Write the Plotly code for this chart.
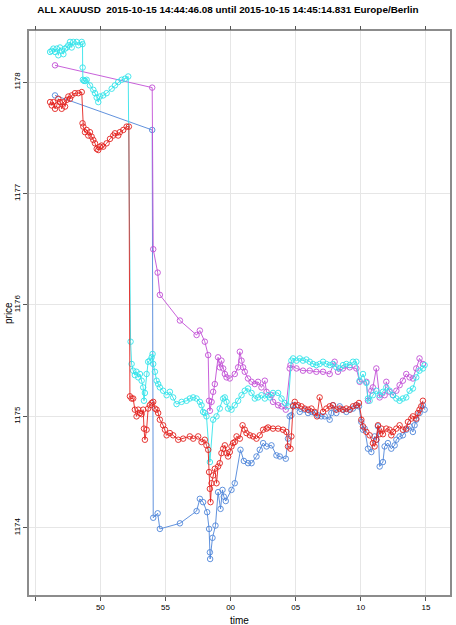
import plotly.graph_objects as go

# seconds after 14:44:00, prices in USD
cyan_t = [46.14, 46.27, 46.39, 46.52, 46.65, 46.77, 46.90, 47.03, 47.16, 47.29, 47.42, 47.54,
          47.67, 47.80, 47.92, 48.18, 48.31, 48.57, 48.63, 48.64, 48.66, 48.75, 48.85, 48.95,
          49.20, 49.46, 49.59, 49.72, 49.84, 49.97, 50.22, 50.48, 50.87, 51.12, 51.37, 51.63,
          51.89, 52.14, 52.32, 52.40, 52.52, 52.65, 52.78, 52.91, 53.04, 53.17, 53.29, 53.35,
          53.42, 53.55, 53.67, 53.80, 53.94, 54.01, 54.06, 54.19, 54.32, 54.44, 54.57, 54.82,
          55.09, 55.34, 55.59, 55.85, 56.24, 56.62, 56.87, 57.13, 57.39, 57.64, 57.77, 57.89,
          58.02, 58.15, 58.41, 58.66, 58.92, 59.17, 59.43, 59.56, 59.69, 59.81, 60.07, 60.32,
          60.58, 60.84, 61.09, 61.34, 61.61, 61.86, 62.11, 62.37, 62.63, 62.88, 63.01, 63.26,
          63.65, 63.91, 64.16, 64.41, 64.67, 64.80, 65.06, 65.31, 65.56, 65.82, 66.08, 66.33,
          66.59, 66.84, 67.10, 67.36, 67.61, 67.86, 68.12, 68.38, 68.63, 68.89, 69.15, 69.40,
          69.66, 69.91, 70.17, 70.43, 70.55, 70.68, 70.93, 71.19, 71.45, 71.70, 71.96, 72.21,
          72.47, 72.73, 72.98, 73.23, 73.49, 73.75, 74.00, 74.26, 74.51, 74.77, 74.90]
cyan_p = [1178.27, 1178.28, 1178.30, 1178.27, 1178.30, 1178.24, 1178.31, 1178.28, 1178.25,
          1178.30, 1178.31, 1178.33, 1178.36, 1178.31, 1178.36, 1178.36, 1178.33, 1178.36,
          1178.34, 1178.13, 1178.02, 1178.01, 1178.01, 1178.02, 1177.97, 1177.93, 1177.90,
          1177.86, 1177.82, 1177.87, 1177.88, 1177.90, 1177.94, 1177.97, 1178.00, 1178.02,
          1178.03, 1178.05, 1175.67, 1175.47, 1175.41, 1175.37, 1175.40, 1175.35, 1175.38,
          1175.32, 1175.26, 1175.14, 1175.21, 1175.38, 1175.49, 1175.50, 1175.53, 1175.56,
          1175.47, 1175.40, 1175.32, 1175.29, 1175.26, 1175.23, 1175.19, 1175.22, 1175.17,
          1175.11, 1175.13, 1175.14, 1175.16, 1175.17, 1175.16, 1175.13, 1175.10, 1175.04,
          1175.03, 1175.00, 1174.59, 1174.97, 1175.00, 1175.07, 1175.16, 1175.17, 1175.13,
          1175.07, 1175.06, 1175.10, 1175.14, 1175.19, 1175.23, 1175.25, 1175.21, 1175.16,
          1175.17, 1175.19, 1175.16, 1175.19, 1175.17, 1175.21, 1175.21, 1175.16, 1175.12,
          1175.09, 1175.50, 1175.52, 1175.50, 1175.52, 1175.50, 1175.51, 1175.49, 1175.47,
          1175.46, 1175.47, 1175.49, 1175.47, 1175.46, 1175.47, 1175.44, 1175.43, 1175.46,
          1175.47, 1175.46, 1175.49, 1175.49, 1175.32, 1175.38, 1175.30, 1175.16, 1175.14,
          1175.19, 1175.23, 1175.19, 1175.22, 1175.26, 1175.23, 1175.19, 1175.16, 1175.14,
          1175.16, 1175.17, 1175.23, 1175.25, 1175.35, 1175.41, 1175.43, 1175.46]

magenta_t = [46.52, 53.98, 54.06, 54.40, 54.57, 56.11, 57.39, 57.64, 58.02, 58.28, 58.35, 58.41,
             58.54, 58.66, 58.79, 59.04, 59.17, 59.30, 59.43, 59.56, 59.69, 59.94, 60.32, 60.58,
             60.71, 60.84, 60.96, 61.09, 61.34, 61.61, 61.86, 62.11, 62.37, 62.63, 62.76, 63.14,
             63.26, 63.65, 63.91, 64.24, 64.54, 64.60, 65.06, 65.56, 66.08, 66.59, 67.10, 67.61,
             67.99, 68.25, 68.63, 69.15, 69.66, 69.91, 70.43, 70.55, 70.81, 70.93, 71.19, 71.45,
             71.83, 71.96, 72.21, 72.47, 72.73, 72.98, 73.23, 73.49, 73.75, 74.00, 74.26, 74.51,
             74.77]
magenta_p = [1178.15, 1177.95, 1176.50, 1176.29, 1176.09, 1175.86, 1175.73, 1175.77, 1175.67,
             1175.55, 1175.14, 1175.05, 1175.13, 1175.22, 1175.29, 1175.53, 1175.44, 1175.50,
             1175.43, 1175.38, 1175.35, 1175.34, 1175.38, 1175.44, 1175.58, 1175.50, 1175.44,
             1175.40, 1175.34, 1175.31, 1175.29, 1175.31, 1175.26, 1175.32, 1175.22, 1175.19,
             1175.13, 1175.10, 1175.09, 1175.06, 1175.43, 1175.46, 1175.43, 1175.41, 1175.41,
             1175.40, 1175.40, 1175.38, 1175.49, 1175.40, 1175.43, 1175.44, 1175.43, 1175.31,
             1175.31, 1175.14, 1175.23, 1175.26, 1175.43, 1175.17, 1175.19, 1175.31, 1175.22,
             1175.19, 1175.23, 1175.28, 1175.32, 1175.38, 1175.35, 1175.34, 1175.43, 1175.52,
             1175.47]

red_t = [46.14, 46.27, 46.39, 46.52, 46.65, 46.77, 46.90, 47.03, 47.16, 47.29, 47.42, 47.54,
         47.67, 47.80, 48.05, 48.31, 48.57, 48.63, 48.69, 48.82, 48.95, 49.07, 49.20, 49.33,
         49.46, 49.59, 49.72, 49.84, 49.97, 50.10, 50.22, 50.48, 50.74, 50.99, 51.12, 51.37,
         51.50, 51.76, 52.02, 52.19, 52.27, 52.40, 52.52, 52.65, 52.78, 52.91, 53.04, 53.17,
         53.29, 53.35, 53.42, 53.55, 53.67, 53.80, 53.94, 54.06, 54.19, 54.32, 54.44, 54.57,
         54.82, 54.96, 55.09, 55.34, 55.59, 55.98, 56.36, 56.87, 57.13, 57.51, 57.77, 58.02,
         58.15, 58.28, 58.35, 58.41, 58.46, 58.54, 58.66, 58.79, 58.92, 59.04, 59.17, 59.30,
         59.43, 59.56, 59.69, 59.81, 59.94, 60.07, 60.19, 60.32, 60.46, 60.71, 60.92, 61.09,
         61.22, 61.48, 61.73, 61.99, 62.24, 62.50, 62.76, 62.88, 63.26, 63.65, 64.03, 64.29,
         64.41, 64.60, 64.67, 64.80, 64.93, 65.18, 65.44, 65.69, 65.95, 66.21, 66.46, 66.64,
         66.84, 67.10, 67.36, 67.61, 67.86, 68.12, 68.38, 68.63, 68.89, 69.15, 69.40, 69.66,
         69.86, 70.04, 70.17, 70.43, 70.68, 70.93, 71.06, 71.19, 71.32, 71.45, 71.58, 71.70,
         71.96, 72.21, 72.34, 72.47, 72.73, 72.98, 73.23, 73.49, 73.62, 73.88, 74.00, 74.26,
         74.38, 74.51, 74.64, 74.77]
red_p = [1177.82, 1177.79, 1177.82, 1177.76, 1177.79, 1177.85, 1177.82, 1177.76, 1177.82,
         1177.78, 1177.84, 1177.87, 1177.85, 1177.88, 1177.90, 1177.90, 1177.91, 1177.63,
         1177.60, 1177.55, 1177.57, 1177.52, 1177.55, 1177.51, 1177.48, 1177.45, 1177.40,
         1177.39, 1177.42, 1177.43, 1177.42, 1177.45, 1177.49, 1177.52, 1177.54, 1177.52,
         1177.55, 1177.57, 1177.60, 1177.60, 1175.18, 1175.16, 1175.16, 1175.06, 1175.00,
         1175.06, 1175.03, 1175.02, 1175.06, 1174.89, 1174.79, 1174.88, 1175.07, 1175.10,
         1175.12, 1175.13, 1175.07, 1175.06, 1175.03, 1174.97, 1174.92, 1174.88, 1174.83,
         1174.85, 1174.83, 1174.79, 1174.80, 1174.82, 1174.80, 1174.82, 1174.77, 1174.79,
         1174.74, 1174.70, 1174.50, 1174.35, 1174.23, 1174.40, 1174.47, 1174.53, 1174.40,
         1174.55, 1174.58, 1174.67, 1174.71, 1174.74, 1174.67, 1174.64, 1174.68, 1174.73,
         1174.76, 1174.77, 1174.82, 1174.80, 1174.92, 1174.88, 1174.85, 1174.83, 1174.82,
         1174.80, 1174.83, 1174.88, 1174.89, 1174.90, 1174.89, 1174.89, 1174.88, 1174.86,
         1174.73, 1174.71, 1174.82, 1175.09, 1175.13, 1175.10, 1175.09, 1175.07, 1175.06,
         1175.07, 1175.04, 1175.00, 1175.17, 1175.04, 1175.07, 1175.09, 1175.10, 1175.06,
         1175.07, 1175.06, 1175.07, 1175.06, 1175.09, 1175.10, 1175.12, 1174.97, 1174.91,
         1174.86, 1174.83, 1174.76, 1174.73, 1174.79, 1174.92, 1174.84, 1174.89, 1174.84,
         1174.89, 1174.88, 1174.83, 1174.86, 1174.89, 1174.92, 1174.88, 1174.89, 1174.95,
         1174.98, 1175.00, 1174.98, 1175.03, 1175.06, 1175.09, 1175.14]

blue_t = [46.52, 53.98, 54.06, 54.40, 54.57, 56.11, 57.39, 57.64, 57.89, 58.20, 58.35, 58.41,
          58.43, 58.61, 58.84, 59.04, 59.23, 59.38, 59.48, 59.63, 60.07, 60.32, 60.76, 61.02,
          61.34, 61.61, 61.99, 62.24, 62.50, 62.76, 63.14, 63.52, 63.78, 64.24, 64.41, 64.54,
          64.67, 64.80, 65.06, 65.31, 65.69, 65.95, 66.21, 66.46, 66.71, 66.97, 67.23, 67.61,
          67.74, 67.86, 68.12, 68.38, 68.63, 68.89, 69.15, 69.40, 69.66, 69.86, 70.04, 70.17,
          70.30, 70.55, 70.81, 71.06, 71.19, 71.32, 71.45, 71.70, 71.83, 72.08, 72.34, 72.60,
          72.73, 72.98, 73.23, 73.49, 73.75, 74.00, 74.13, 74.26, 74.51, 74.77, 74.90]
blue_p = [1177.88, 1177.57, 1174.09, 1174.13, 1173.99, 1174.04, 1174.15, 1174.26, 1174.23,
          1174.14, 1173.99, 1173.78, 1173.72, 1173.91, 1174.02, 1174.32, 1174.17, 1174.34,
          1174.28, 1174.24, 1174.34, 1174.40, 1174.70, 1174.60, 1174.58, 1174.58, 1174.64,
          1174.70, 1174.76, 1174.73, 1174.74, 1174.65, 1174.64, 1174.62, 1174.80, 1175.00,
          1175.01, 1175.10, 1175.09, 1175.04, 1175.06, 1175.03, 1175.04, 1175.03, 1175.01,
          1175.00, 1175.00, 1174.97, 1175.03, 1175.10, 1175.03, 1175.09, 1175.06, 1175.04,
          1175.06, 1175.07, 1175.10, 1175.09, 1174.95, 1174.88, 1174.89, 1174.71, 1174.68,
          1174.82, 1174.79, 1174.91, 1174.55, 1174.59, 1174.73, 1174.76, 1174.71, 1174.74,
          1174.79, 1174.82, 1174.83, 1174.88, 1174.91, 1174.86, 1174.92, 1174.97, 1175.03,
          1175.10, 1175.06]

x_ticks = [45, 50, 55, 60, 65, 70, 75]
x_tick_labels = ["", "50", "55", "00", "05", "10", "15"]
y_ticks = [1174, 1175, 1176, 1177, 1178]

series = [
    (blue_t, blue_p, "#4f86d9"),
    (magenta_t, magenta_p, "#c24fd6"),
    (cyan_t, cyan_p, "#33e3ea"),
    (red_t, red_p, "#e3221f"),
]

FONT = "Liberation Sans, Arial, sans-serif"

fig = go.Figure()
for ts, ps, color in series:
    fig.add_trace(go.Scatter(
        x=ts, y=ps, mode="lines+markers",
        line={"color": color, "width": 0.9},
        marker={"symbol": "circle-open", "size": 5.5, "color": color, "line": {"width": 0.9}},
        showlegend=False,
    ))

# invisible trace to activate the top tick axis
fig.add_trace(go.Scatter(x=[60], y=[1176], xaxis="x2", mode="markers",
                         marker={"opacity": 0}, showlegend=False, hoverinfo="skip"))

axis_font = {"family": FONT, "size": 8, "color": "#000"}
fig.update_layout(
    width=456, height=625,
    paper_bgcolor="white", plot_bgcolor="white",
    margin={"l": 29, "r": 6, "t": 31, "b": 30, "autoexpand": False},
    title={
        "text": "<b>ALL XAUUSD  2015-10-15 14:44:46.08 until 2015-10-15 14:45:14.831 Europe/Berlin</b>",
        "x": 0.5, "xanchor": "center", "xref": "container",
        "y": 0.984, "yanchor": "middle", "yref": "container",
        "font": {"family": FONT, "size": 9.9, "color": "#000"},
    },
    xaxis={
        "range": [44.52, 76.85], "tickvals": x_ticks, "ticktext": x_tick_labels,
        "ticks": "outside", "ticklen": 4, "tickcolor": "#555", "tickfont": axis_font,
        "showgrid": True, "gridcolor": "#e6e6e6", "gridwidth": 1, "zeroline": False,
        "showline": True, "linecolor": "#8c8c8c", "linewidth": 1.5, "mirror": True,
        "automargin": False,
    },
    xaxis2={
        "overlaying": "x", "side": "top", "matches": "x", "tickvals": x_ticks,
        "ticks": "outside", "ticklen": 4, "tickcolor": "#555",
        "showticklabels": False, "showgrid": False, "zeroline": False,
        "automargin": False,
    },
    yaxis={
        "range": [1173.397, 1178.458], "tickvals": y_ticks,
        "ticks": "outside", "ticklen": 4, "tickcolor": "#555", "tickfont": axis_font,
        "tickangle": -90,
        "showgrid": True, "gridcolor": "#e6e6e6", "gridwidth": 1, "zeroline": False,
        "showline": True, "linecolor": "#8c8c8c", "linewidth": 1.5, "mirror": True,
        "automargin": False,
    },
    annotations=[
        {"text": "time", "xref": "paper", "yref": "paper", "x": 0.5, "y": 0,
         "yshift": -25, "xanchor": "center", "yanchor": "middle", "showarrow": False,
         "font": {"family": FONT, "size": 10, "color": "#000"}},
        {"text": "price", "xref": "paper", "yref": "paper", "x": 0, "y": 0.5,
         "xshift": -21, "textangle": -90, "xanchor": "center", "yanchor": "middle",
         "showarrow": False, "font": {"family": FONT, "size": 10, "color": "#000"}},
    ],
)

# drop the default page margin so the figure sits at the window's corner
fig.write_html("out.html", config={"displayModeBar": False},
               post_script="document.body.style.margin = '0px';")
